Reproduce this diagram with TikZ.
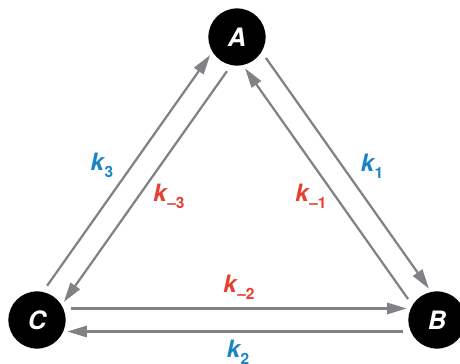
\documentclass[tikz,border=0pt]{standalone}
\usepackage{fontspec}
\setmainfont{TeX Gyre Heros}
\usetikzlibrary{arrows.meta, calc}
\definecolor{arrgray}{HTML}{808285}
\definecolor{kblue}{HTML}{1C84C6}
\definecolor{kred}{HTML}{E5402F}

% rate constant label: k with lowered index
\newcommand{\rk}[1]{\textit{k}\hspace{-0.5pt}\raisebox{-0.55ex}{\fontsize{11}{11}\selectfont #1}}
% one arrow from P to Q, kept to the left of its direction
\newcommand{\rxn}[2]{%
  \draw[rxnarrow] ($(#1)!8.2pt!90:(#2)$) -- ($(#2)!8.2pt!-90:(#1)$);}

\begin{document}
\begin{tikzpicture}[x=0.025cm, y=0.025cm,
  species/.style={circle, fill=black, minimum size=1.43cm, inner sep=0pt,
    text=white, font=\fontsize{18}{18}\selectfont\bfseries\itshape},
  rxnarrow/.style={arrgray, line width=1.6pt,
    -{Triangle[length=14pt, width=8pt]},
    shorten <=24pt, shorten >=21.5pt},
  klabel/.style={font=\fontsize{17}{17}\selectfont\bfseries}]

\useasboundingbox (0,0) rectangle (460,363);

% species
\node[species] (A) at (237,326) {A};
\node[species] (B) at (437,43) {B};
\node[species] (C) at (37,43) {C};

% reactions
\rxn{A}{B}
\rxn{B}{A}
\rxn{C}{A}
\rxn{A}{C}
\rxn{C}{B}
\rxn{B}{C}

% rate constants
\node[klabel, text=kblue] (kone) at (372,197) {\rk{1}};
\node[klabel, text=kred] (kmone) at (311,167) {\rk{--1}};
\node[klabel, text=kblue] (kthree) at (102,198) {\rk{3}};
\node[klabel, text=kred] (kmthree) at (169,167) {\rk{--3}};
\node[klabel, text=kred] (kmtwo) at (239,76) {\rk{--2}};
\node[klabel, text=kblue] (ktwo) at (238,11) {\rk{2}};

\end{tikzpicture}
\end{document}
